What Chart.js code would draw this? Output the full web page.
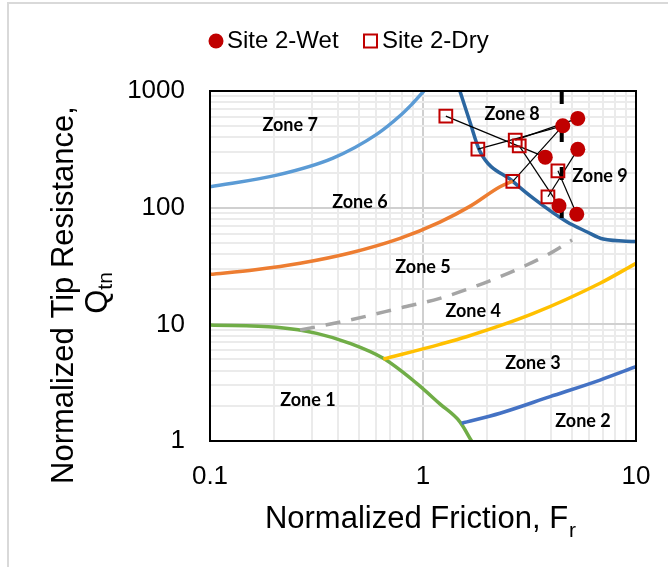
<!DOCTYPE html>
<html>
<head>
<meta charset="utf-8">
<title>Normalized Soil Behaviour Type Chart</title>
<script src="https://cdn.jsdelivr.net/npm/chart.js@4.4.1/dist/chart.umd.min.js"></script>
<style>
  html, body { margin: 0; padding: 0; background: #fff; }
  canvas { display: block; }
</style>
</head>
<body>
<canvas id="sbtChart" width="668" height="567"></canvas>
<script>
// CPT soundings, normalized friction Fr (%) and tip resistance Qtn
const wetFr = [5.33, 4.53, 5.33, 3.75, 4.35, 5.27];
const wetQtn = [582, 503, 316, 271, 104, 88];
const dryFr = [1.28, 1.81, 2.71, 2.83, 4.30, 2.64, 3.86];
const dryQtn = [609, 318, 379, 339, 207, 168, 124];
// dry point index -> wet point index
const dryToWet = [[0, 3], [1, 1], [2, 0], [3, 4], [4, 5], [5, 1], [6, 2]];

// zone boundaries [Fr, Qtn]
const zone7Line = [[0.1, 151], [0.206, 190], [0.378, 266], [0.608, 427], [0.78, 613], [0.888, 772], [1.01, 1000]];
const zone6Line = [[0.1, 26.8], [0.163, 29.4], [0.265, 33.4], [0.454, 40.9], [0.78, 54.6], [1.2, 75.3], [1.66, 102.6], [2.3, 151], [2.64, 169]];
const zone89Line = [[1.49, 1000], [1.66, 545], [1.85, 304], [2.64, 168], [3.30, 120], [4.73, 75.7], [5.87, 62.2], [7.02, 53.8], [10, 51.2]];
const zone45Line = [[0.265, 8.94], [0.454, 10.9], [0.78, 13.8], [1.2, 16.7], [2.3, 25.6], [3.95, 40.6], [5.01, 52.8]];
const zone34Line = [[0.651, 5.04], [1.2, 6.74], [1.6, 7.83], [3.3, 12.4], [6.78, 22.5], [10, 33.3]];
const zone23Line = [[1.52, 1.42], [2.3, 1.73], [3.95, 2.40], [6.78, 3.33], [10, 4.33]];
const zone1Line = [[0.1, 9.86], [0.206, 9.42], [0.317, 8.37], [0.454, 6.87], [0.651, 5.11], [0.934, 3.12], [1.2, 2.08], [1.49, 1.46], [1.69, 1.0]];
const zone9Divider = [[4.48, 1000], [4.48, 75]];

const zoneNames = ['Zone 1', 'Zone 2', 'Zone 3', 'Zone 4', 'Zone 5', 'Zone 6', 'Zone 7', 'Zone 8', 'Zone 9'];
const zoneFr = [0.288, 5.64, 3.28, 1.72, 1.0, 0.506, 0.238, 2.62, 6.78];
const zoneQtn = [2.25, 1.48, 4.66, 13.0, 31, 112, 510, 634, 187];

const xRange = [0.1, 10];
const yRange = [1, 1000];

const FONT = '"Liberation Sans", Arial, sans-serif';
const RED = '#C00000';

const isDecade = v => Math.abs(Math.log10(v) - Math.round(Math.log10(v))) < 1e-9;

function logTicks(min, max) {
  const ticks = [];
  for (let e = Math.floor(Math.log10(min)); e <= Math.ceil(Math.log10(max)); e++) {
    for (let s = 1; s <= 9; s++) {
      const v = +(s * Math.pow(10, e)).toPrecision(6);
      if (v >= min * 0.9999 && v <= max * 1.0001) ticks.push({ value: v });
    }
  }
  return ticks;
}

const toPts = arr => arr.map(p => ({ x: p[0], y: p[1] }));

function curve(pts, color, extra) {
  return Object.assign({
    data: toPts(pts),
    showLine: true,
    borderColor: color,
    borderWidth: 3.5,
    pointRadius: 0,
    pointHoverRadius: 0,
    fill: false,
    cubicInterpolationMode: 'monotone',
    order: 5
  }, extra || {});
}

const linkSets = dryToWet.map(([d, w]) => ({
  data: [{ x: dryFr[d], y: dryQtn[d] }, { x: wetFr[w], y: wetQtn[w] }],
  showLine: true,
  borderColor: '#000',
  borderWidth: 1.2,
  pointRadius: 0,
  pointHoverRadius: 0,
  order: 3
}));

const gridColor = ctx => (ctx.tick && isDecade(ctx.tick.value)) ? '#D0D0D0' : '#EBEBEB';

const decorations = {
  id: 'decorations',
  beforeDraw(chart) {
    const c = chart.ctx;
    c.save();
    c.fillStyle = '#fff';
    c.fillRect(0, 0, chart.width, chart.height);
    c.strokeStyle = '#D9D9D9';
    c.lineWidth = 2;
    c.strokeRect(8, 3, chart.width + 20, chart.height + 20);
    c.restore();
  },
  afterDraw(chart) {
    const c = chart.ctx;
    const a = chart.chartArea;
    const xs = chart.scales.x, ys = chart.scales.y;

    // zone names
    c.save();
    c.fillStyle = '#000';
    c.font = 'bold 18px Lato, "Open Sans", sans-serif';
    c.textAlign = 'center';
    c.textBaseline = 'middle';
    zoneNames.forEach((name, i) => {
      c.fillText(name, xs.getPixelForValue(zoneFr[i]), ys.getPixelForValue(zoneQtn[i]));
    });
    c.restore();

    // plot frame
    c.save();
    c.strokeStyle = '#000';
    c.lineWidth = 2;
    c.strokeRect(a.left, a.top, a.right - a.left, a.bottom - a.top);
    c.restore();

    // axis titles with subscripts
    c.save();
    c.fillStyle = '#000';
    c.textBaseline = 'alphabetic';
    c.textAlign = 'left';
    const big = '31px ' + FONT, small = '21px ' + FONT;
    c.font = big;
    let wMain = c.measureText('Normalized Friction, F').width;
    c.font = small;
    let wSub = c.measureText('r').width;
    let x0 = (a.left + a.right) / 2 - (wMain + wSub) / 2 - 3;
    c.font = big;
    c.fillText('Normalized Friction, F', x0, 528);
    c.font = small;
    c.fillText('r', x0 + wMain + 1, 537);

    c.save();
    c.translate(73, 295);
    c.rotate(-Math.PI / 2);
    c.font = big;
    c.textAlign = 'center';
    c.fillText('Normalized Tip Resistance,', 0, 0);
    c.restore();

    c.save();
    c.translate(107, 293);
    c.rotate(-Math.PI / 2);
    c.font = big;
    wMain = c.measureText('Q').width;
    c.font = small;
    wSub = c.measureText('tn').width;
    x0 = -(wMain + wSub) / 2;
    c.font = big;
    c.fillText('Q', x0, 0);
    c.font = small;
    c.fillText('tn', x0 + wMain, 5);
    c.restore();
    c.restore();

    // legend
    c.save();
    c.font = '24px ' + FONT;
    c.textBaseline = 'alphabetic';
    c.fillStyle = RED;
    c.beginPath();
    c.arc(216, 41, 7.5, 0, Math.PI * 2);
    c.fill();
    c.fillStyle = '#000';
    c.fillText(chart.data.datasets[0].label, 227, 48);
    c.strokeStyle = RED;
    c.lineWidth = 2;
    c.strokeRect(364, 34.5, 13, 13);
    c.fillText(chart.data.datasets[1].label, 382, 48);
    c.restore();
  }
};

new Chart(document.getElementById('sbtChart'), {
  type: 'scatter',
  data: {
    datasets: [
      {
        label: 'Site 2-Wet',
        data: wetFr.map((f, i) => ({ x: f, y: wetQtn[i] })),
        pointStyle: 'circle',
        pointRadius: 7.5,
        backgroundColor: RED,
        borderColor: RED,
        borderWidth: 0,
        order: 1
      },
      {
        label: 'Site 2-Dry',
        data: dryFr.map((f, i) => ({ x: f, y: dryQtn[i] })),
        pointStyle: 'rect',
        pointRadius: 9,
        backgroundColor: 'rgba(0,0,0,0)',
        borderColor: RED,
        borderWidth: 2,
        order: 2
      },
      ...linkSets,
      curve(zone7Line, '#5B9BD5'),
      curve(zone6Line, '#ED7D31'),
      curve(zone89Line, '#2B66A0'),
      curve(zone45Line, '#A5A5A5', { borderDash: [15, 11] }),
      curve(zone34Line, '#FFC000'),
      curve(zone23Line, '#4472C4'),
      curve(zone1Line, '#70AD47'),
      curve(zone9Divider, '#000', { borderWidth: 4, borderDash: [13, 25], cubicInterpolationMode: 'default', order: 4 })
    ]
  },
  options: {
    responsive: false,
    animation: false,
    layout: { padding: { top: 91, right: 32, left: 0, bottom: 0 } },
    plugins: {
      legend: { display: false },
      tooltip: { enabled: false }
    },
    scales: {
      x: {
        type: 'logarithmic',
        min: xRange[0],
        max: xRange[1],
        afterBuildTicks: s => { s.ticks = logTicks(xRange[0], xRange[1]); },
        afterFit: s => { s.height = 126; s.paddingLeft = 0; s.paddingRight = 0; },
        border: { display: false },
        grid: { color: gridColor, lineWidth: 2, drawTicks: false },
        ticks: {
          autoSkip: false,
          maxRotation: 0,
          padding: 20,
          color: '#000',
          font: { family: FONT, size: 26 },
          callback: v => isDecade(v) ? String(v) : ''
        }
      },
      y: {
        type: 'logarithmic',
        min: yRange[0],
        max: yRange[1],
        afterBuildTicks: s => { s.ticks = logTicks(yRange[0], yRange[1]); },
        afterFit: s => { s.width = 210; s.paddingTop = 0; s.paddingBottom = 0; },
        border: { display: false },
        grid: { color: gridColor, lineWidth: 2, drawTicks: false },
        ticks: {
          autoSkip: false,
          padding: 25,
          color: '#000',
          font: { family: FONT, size: 26 },
          callback: v => isDecade(v) ? String(v) : ''
        }
      }
    }
  },
  plugins: [decorations]
});
</script>
</body>
</html>
